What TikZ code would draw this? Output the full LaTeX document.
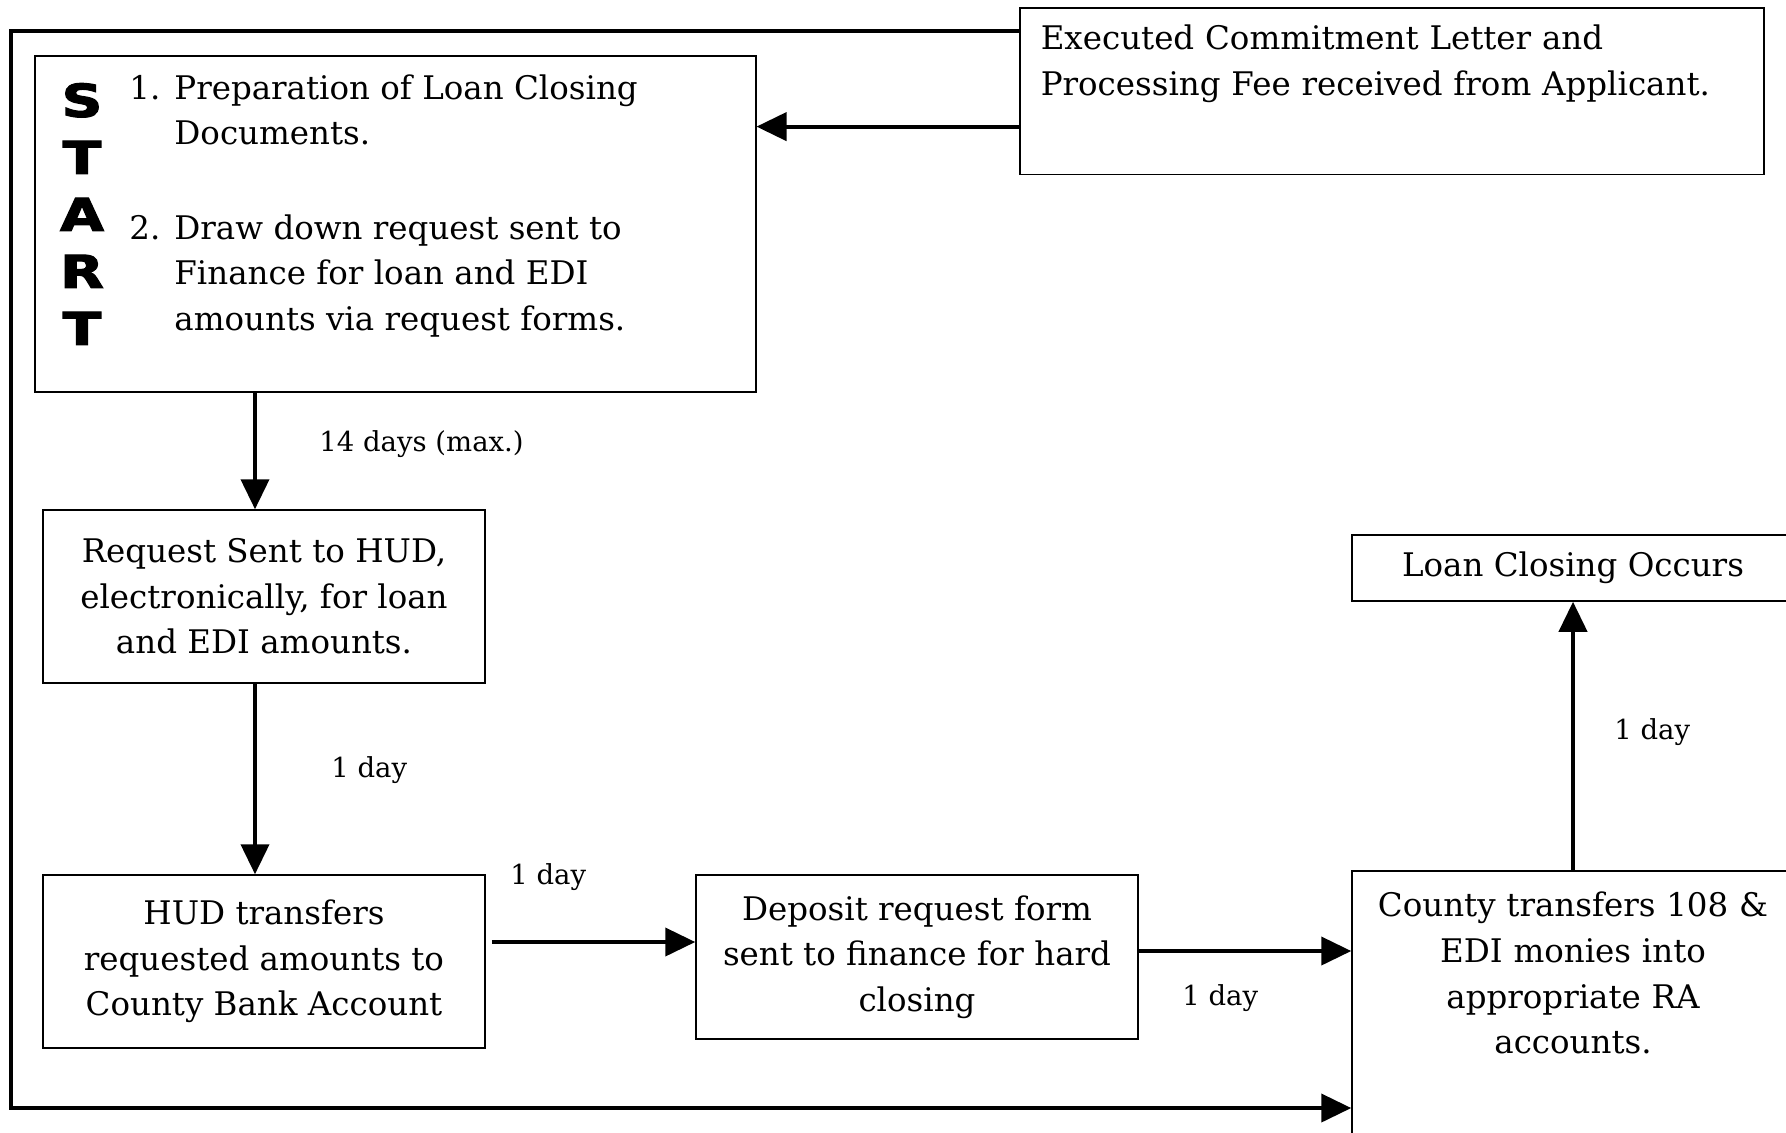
\documentclass[tikz,border=0pt]{standalone}
\usepackage{fontspec}
\usepackage{graphicx}
\setmainfont{DejaVu Serif}
\newfontfamily\startfont{DejaVu Sans}[BoldFeatures={FakeBold=2.5}]
\usetikzlibrary{arrows.meta}
\newcommand\boxfont{\fontsize{16.25pt}{22.8pt}\selectfont}
\newcommand\dayfont{\fontsize{13.75pt}{16pt}\selectfont}
\newcommand\startletters{\startfont\bfseries\fontsize{22.6pt}{28.5pt}\selectfont}
\begin{document}
\begin{tikzpicture}[x=0.5pt,y=-0.5pt,
box/.style={draw,line width=0.75pt,inner sep=0pt,font=\boxfont,align=center},
flow/.style={line width=2pt,-{Triangle[length=15pt,width=14pt]}},
daylabel/.style={anchor=west,inner sep=0pt,font=\dayfont}]
\useasboundingbox(0,0)rectangle(1786,1132);
\clip(0,0)rectangle(1786,1132);
\node[box,anchor=north west,align=left,text width=351pt,inner xsep=10.5pt,inner ysep=8.5pt,text depth=54pt](exec)at(1019,7){Executed Commitment Letter and\\Processing Fee received from Applicant.};
\node[box,anchor=north west,minimum width=360.5pt,minimum height=168pt](prep)at(34,55){};
\node[font=\startletters,align=center,inner sep=0pt](start)at(82,214){\scalebox{1.25}[1]{S}\\\scalebox{1.25}[1]{T}\\\scalebox{1.25}[1]{A}\\\scalebox{1.25}[1]{R}\\\scalebox{1.25}[1]{T}};
\node[anchor=base west,inner sep=0pt,font=\boxfont](steps)at(129,99){\begin{tabular}[t]{@{}p{22.5pt}@{}l@{}}1.&Preparation of Loan Closing\\&Documents.\\[24.5pt]2.&Draw down request sent to\\&Finance for loan and EDI\\&amounts via request forms.\end{tabular}};
\node[box,minimum width=221pt,minimum height=86.5pt](request)at(264,596.5){Request Sent to HUD,\\electronically, for loan\\and EDI amounts.};
\node[box,minimum width=221pt,minimum height=86.5pt](hud)at(264,961.5){HUD transfers\\requested amounts to\\County Bank Account};
\node[box,minimum width=221pt,minimum height=82pt](deposit)at(917,957){Deposit request form\\sent to finance for hard\\closing};
\node[box,anchor=north,text width=211pt,inner xsep=5pt,inner ysep=10.75pt,text depth=125pt](county)at(1573,870){County transfers 108 \&\\EDI monies into\\appropriate RA\\accounts.};
\node[box,minimum width=221pt,minimum height=33pt](loan)at(1573,568){Loan Closing Occurs};
\node[daylabel](dayA)at(319,444){14 days (max.)};
\node[daylabel](dayB)at(331,770){1 day};
\node[daylabel](dayC)at(510,877){1 day};
\node[daylabel](dayD)at(1182,998){1 day};
\node[daylabel](dayE)at(1614,732){1 day};
\coordinate(execout)at([yshift=-17.75pt]exec.west);
\coordinate(downx)at([xshift=-4.5pt]request.north);
\coordinate(hudout)at([xshift=3pt,yshift=9.75pt]hud.east);
\coordinate(depout)at([yshift=3pt]deposit.east);
\coordinate(loopTL)at(11,31);
\coordinate(loopBL)at(11,1108);
\draw[flow](execout)--(execout-|prep.east);
\draw[flow](downx|-prep.south)--(downx);
\draw[flow]([xshift=-4.5pt]request.south)--([xshift=-4.5pt]hud.north);
\draw[flow](hudout)--(hudout-|deposit.west);
\draw[flow](depout)--(depout-|county.west);
\draw[flow](county.north)--(loan.south);
\draw[flow](exec.west|-loopTL)--(loopTL)--(loopBL)--(loopBL-|county.west);
\end{tikzpicture}
\end{document}
